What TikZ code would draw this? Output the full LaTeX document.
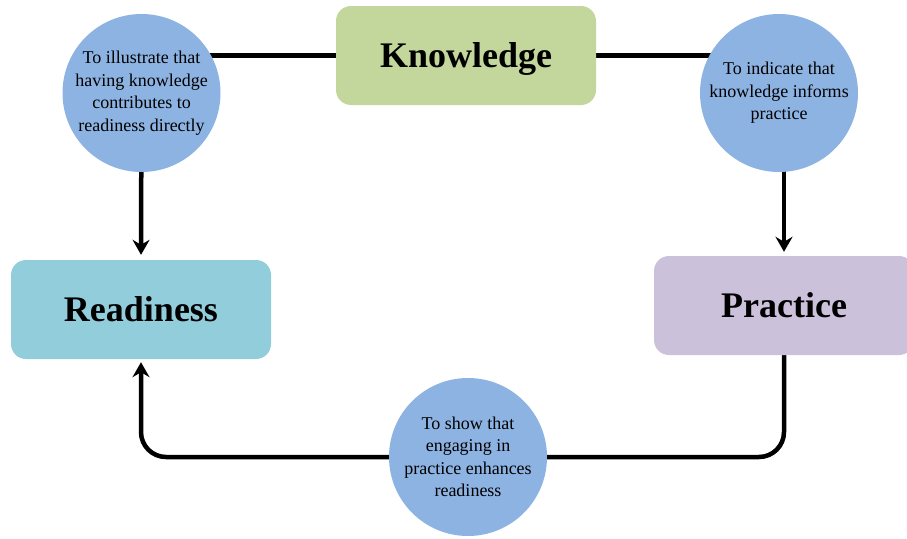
\documentclass[tikz,border=0pt]{standalone}
\usepackage{fontspec}
\setmainfont{Liberation Serif}
\usetikzlibrary{arrows.meta,backgrounds}
\definecolor{knowc}{HTML}{C3D69B}
\definecolor{readc}{HTML}{92CDDC}
\definecolor{pracc}{HTML}{CCC1DA}
\definecolor{circc}{HTML}{8DB3E2}
\tikzset{
  bigbox/.style={rectangle, rounded corners=15pt, minimum width=260pt, minimum height=99pt, inner sep=0pt,
    text depth=0pt, font=\fontsize{36}{40}\selectfont\bfseries},
  note/.style={circle, fill=circc, minimum size=158pt, inner sep=0pt, align=center,
    font=\fontsize{18}{22.5}\selectfont},
  conn/.style={line width=4.5pt, rounded corners=25pt},
  arr/.style={conn, -{Stealth[length=15pt,width=17pt,inset=5pt]}}
}
\begin{document}
\begin{tikzpicture}[x=1pt,y=-1pt]
\useasboundingbox (0,0) rectangle (907,538);
\clip (0,0) rectangle (907,538);
\node[bigbox, fill=knowc] (know) at (466,55.5) {Knowledge};
\node[bigbox, fill=readc] (read) at (141,309.5) {Readiness};
\node[bigbox, fill=pracc] (prac) at (784,305.5) {Practice};
\node[note] (c1) at (141.5,93) {To illustrate that\\having knowledge\\contributes to\\readiness directly};
\node[note] (c2) at (779,93) {To indicate that\\knowledge informs\\practice};
\node[note] (c3) at (468,457) {To show that\\engaging in\\practice enhances\\readiness};
\begin{scope}[on background layer]
  \draw[conn] (know.west) -- (know.west -| c1);
  \draw[conn] (know.east) -- (know.east -| c2);
  \draw[arr, shorten >=5pt] (c1) -- (read.north);
  \draw[arr, shorten >=4pt] (prac.north |- c2) -- (prac.north);
  \draw[conn] (prac.south) |- (c3);
  \draw[arr, shorten >=3pt] (c3) -| (read.south);
\end{scope}
\end{tikzpicture}
\end{document}
